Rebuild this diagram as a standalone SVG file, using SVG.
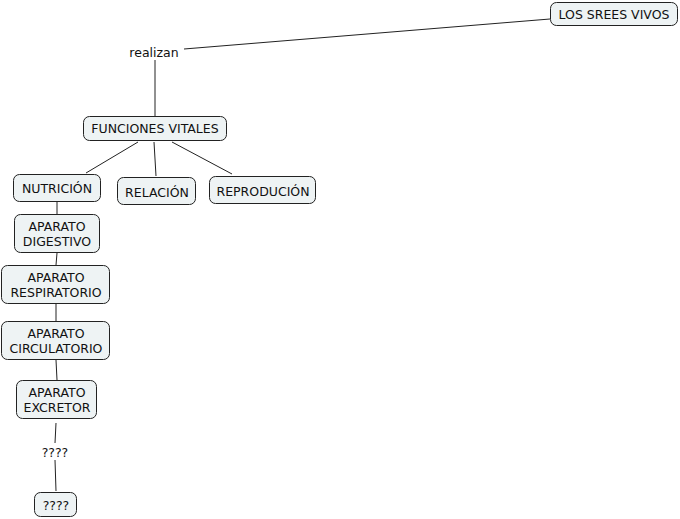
<svg xmlns="http://www.w3.org/2000/svg" width="680" height="519" viewBox="0 0 680 519">
<style>
.n{fill:#eef3f4;stroke:#222;stroke-width:1}
text{font-family:"DejaVu Sans",Verdana,sans-serif;font-size:12.5px;fill:#111;text-anchor:middle}
.c line{stroke:#222;stroke-width:1}
</style>
<rect width="680" height="519" fill="#fff"/>
<g class="c" id="connectors">
<line x1="550" y1="19" x2="184" y2="49"/>
<line x1="155" y1="60" x2="155" y2="116"/>
<line x1="138" y1="142" x2="86" y2="173"/>
<line x1="154" y1="142" x2="156" y2="176"/>
<line x1="172" y1="142" x2="232" y2="174"/>
<line x1="57" y1="202" x2="57" y2="214"/>
<line x1="57" y1="253" x2="56" y2="265"/>
<line x1="56" y1="304" x2="56" y2="321"/>
<line x1="56" y1="360" x2="57" y2="380"/>
<line x1="56" y1="423" x2="55" y2="443"/>
<line x1="55" y1="460" x2="56" y2="491"/>
</g>
<g id="los-srees-vivos"><rect class="n" x="550.5" y="2.5" width="127" height="23" rx="6"/><text x="614" y="18.5">LOS SREES VIVOS</text></g>
<g id="realizan"><text x="154" y="56.5">realizan</text></g>
<g id="funciones-vitales"><rect class="n" x="83.5" y="116.5" width="143" height="24" rx="6"/><text x="155" y="132.5">FUNCIONES VITALES</text></g>
<g id="nutricion"><rect class="n" x="13.5" y="174.5" width="87" height="27" rx="6"/><text x="57" y="192.5">NUTRICIÓN</text></g>
<g id="relacion"><rect class="n" x="117.5" y="177.5" width="78" height="27" rx="6"/><text x="157" y="196.5">RELACIÓN</text></g>
<g id="reproducion"><rect class="n" x="209.5" y="176.5" width="106" height="27" rx="6"/><text x="263" y="195.5">REPRODUCIÓN</text></g>
<g id="digestivo"><rect class="n" x="14.5" y="214.5" width="85" height="38" rx="6"/><text x="57" y="230.5">APARATO</text><text x="57" y="245.5">DIGESTIVO</text></g>
<g id="respiratorio"><rect class="n" x="1.5" y="265.5" width="108" height="38" rx="6"/><text x="56" y="281.5">APARATO</text><text x="56" y="296.5">RESPIRATORIO</text></g>
<g id="circulatorio"><rect class="n" x="1.5" y="321.5" width="108" height="38" rx="6"/><text x="56" y="337.5">APARATO</text><text x="56" y="352.5">CIRCULATORIO</text></g>
<g id="excretor"><rect class="n" x="16.5" y="380.5" width="80" height="38" rx="6"/><text x="57" y="396.5">APARATO</text><text x="57" y="411.5">EXCRETOR</text></g>
<g id="q-label"><text x="55" y="456.5">????</text></g>
<g id="q-box"><rect class="n" x="34.5" y="492.5" width="42" height="24" rx="6"/><text x="56" y="509.5">????</text></g>
</svg>
